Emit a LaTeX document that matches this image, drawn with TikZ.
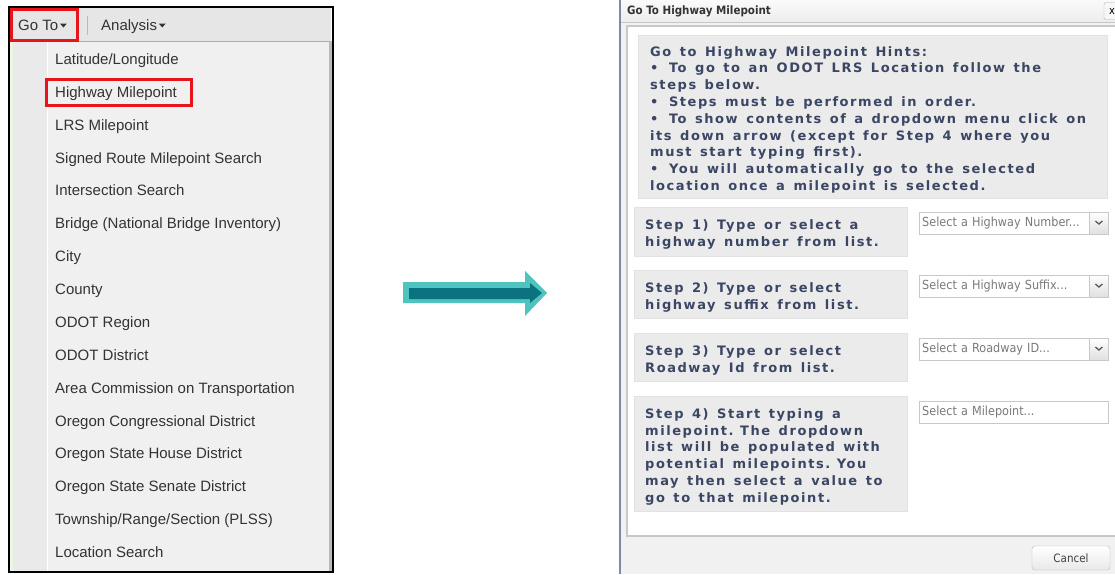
\documentclass[tikz,border=0pt]{standalone}
\usepackage{fontspec}
\usepackage{tikz}
\usetikzlibrary{positioning}
\setmainfont{Liberation Sans}
\newfontfamily\menufont{Liberation Sans}
\newfontfamily\hintfont{DejaVu Sans}[LetterSpace=12]
\IfFontExistsTF{DejaVu Sans Condensed}
  {\newfontfamily\uifont{DejaVu Sans Condensed}}
  {\newfontfamily\uifont{DejaVu Sans}[Scale=0.9]}
\newcommand{\firstline}{\rule{0pt}{16pt}}
\newcommand{\widespaces}{\fontdimen2\font=8.5pt\fontdimen3\font=1pt\spaceskip=8.5pt plus 1pt\relax}
\newcommand{\hintbullet}{•\hspace*{10.5pt}}

\definecolor{menubg}{HTML}{F0F0F0}
\definecolor{colbg}{HTML}{EAEAEA}
\definecolor{barbg}{HTML}{E6E6E6}
\definecolor{menutext}{HTML}{333333}
\definecolor{hiliteRed}{HTML}{E8141C}
\definecolor{hintbg}{HTML}{EBEBEB}
\definecolor{hintline}{HTML}{E2E2E2}
\definecolor{hinttext}{HTML}{3A4664}
\definecolor{framebg}{HTML}{F1F1F1}
\definecolor{edgeblue}{HTML}{7A8CA6}
\definecolor{tealLight}{HTML}{4FC3BE}
\definecolor{tealDark}{HTML}{0B7380}
\definecolor{boxline}{HTML}{C8C8C8}
\definecolor{placeholder}{HTML}{7A7A7A}

\begin{document}
\begin{tikzpicture}
  [x=1pt,y=-1pt,
   menuitem/.style={anchor=base west,inner sep=0pt,text=menutext,font=\menufont\fontsize{15}{17}\selectfont},
   redbox/.style={draw=hiliteRed,line width=2.5pt},
   hintbox/.style={anchor=north west,fill=hintbg,draw=hintline,text=hinttext,align=left,
     font=\hintfont\bfseries\fontsize{13}{16.8}\selectfont},
   stepbox/.style={hintbox,inner xsep=11pt,text width=251pt},
   dropbox/.style={anchor=north west,draw=boxline,fill=white,minimum height=22pt,
     inner xsep=3pt,inner ysep=0pt,text width=183pt,align=left,text=placeholder,
     font=\uifont\fontsize{12.5}{14}\selectfont},
   chev/.style={draw=black!65,line width=1.3pt}]

  \useasboundingbox (0,0) rectangle (1115,574);

  % left: Go To menu
  \fill[barbg] (10,8) rectangle (331,41);
  \draw[gray!65] (10,41) -- (331,41);
  \fill[colbg] (13,41) rectangle (47,572);
  \fill[yellow!20!green!10] (10,41) rectangle (13,572);
  \fill[menubg] (47,42) rectangle (329,572);
  \draw[white] (47,42) -- (47,572);
  \fill[gray!55] (329,41) rectangle (332,572);
  \draw[black,line width=2pt] (9,7) rectangle (333,572);

  \node[menuitem] (goto) at (18,30.5) {Go To};
  \fill[menutext] ([xshift=1.5pt,yshift=5.5pt]goto.base east) ++(0,-1.5) -- ++(7,0) -- ++(-3.5,4) -- cycle;
  \draw[gray!55] (87,16) -- (87,35);
  \node[menuitem] (analysis) at (101,30.5) {Analysis};
  \fill[menutext] ([xshift=1.5pt,yshift=5.5pt]analysis.base east) ++(0,-1.5) -- ++(7,0) -- ++(-3.5,4) -- cycle;
  \draw[redbox] (11.5,9.5) rectangle (77.5,40.5);

  \foreach \t [count=\i] in {Latitude/Longitude,Highway Milepoint,LRS Milepoint,
      Signed Route Milepoint Search,Intersection Search,Bridge (National Bridge Inventory),
      City,County,ODOT Region,ODOT District,Area Commission on Transportation,
      Oregon Congressional District,Oregon State House District,Oregon State Senate District,
      Township/Range/Section (PLSS),Location Search}
    \node[menuitem] (item\i) at (55,{64.5+32.87*(\i-1)}) {\t};
  \draw[redbox] (46.5,79.5) rectangle (191.5,105.5);

  % arrow
  \fill[tealLight] (403,282) -- (525,282) -- (525,271) -- (547,293) -- (525,316)
    -- (525,303) -- (403,303) -- cycle;
  \fill[tealDark] (409,288) -- (530,288) -- (530,283) -- (542,293) -- (530,303)
    -- (530,299) -- (409,299) -- cycle;

  % right: dialog
  \fill[framebg] (621,0) rectangle (1115,574);
  \shade[top color=gray!4,bottom color=gray!14] (621,0) rectangle (1115,22);
  \draw[gray!45] (621,22.5) -- (1115,22.5);
  \filldraw[fill=white,draw=boxline,line width=1.5pt] (627,26) rectangle (1120,536);
  \draw[edgeblue,line width=1.5pt] (620,0) -- (620,574);
  \node[anchor=west,inner sep=0pt,text=black!80,font=\uifont\bfseries\fontsize{11.5}{13}\selectfont]
    (title) at (627,11) {Go To Highway Milepoint};
  \node[draw=gray!60,fill=gray!6,rounded corners=2pt,minimum width=16pt,minimum height=17pt,
    inner sep=0pt,font=\uifont\fontsize{11}{12}\selectfont] (close) at (1112,11) {x};

  \node[hintbox,inner xsep=12pt,text width=445pt,minimum height=163pt] (hints) at (638,35)
    {\widespaces\firstline Go to Highway Milepoint Hints:\\
     \mbox{\hintbullet To go to an ODOT LRS Location follow the}\\
     steps below.\\
     \hintbullet Steps must be performed in order.\\
     \mbox{\hintbullet To show contents of a dropdown menu click on}\\
     \mbox{its down arrow (except for Step 4 where you}\\
     must start typing first).\\
     \mbox{\hintbullet You will automatically go to the selected}\\
     location once a milepoint is selected.};

  \node[stepbox,minimum height=49pt] (step1) at (634,207)
    {\widespaces\firstline Step 1) Type or select a\\ highway number from list.};
  \node[stepbox,minimum height=48pt] (step2) at (634,270)
    {\widespaces\firstline Step 2) Type or select\\ highway suffix from list.};
  \node[stepbox,minimum height=48pt] (step3) at (634,333)
    {\widespaces\firstline Step 3) Type or select\\ Roadway Id from list.};
  \node[stepbox,minimum height=115pt] (step4) at (634,396)
    {\widespaces\firstline Step 4) Start typing a\\ milepoint. The dropdown\\ \mbox{list will be populated with}\\
     potential milepoints. You\\ \mbox{may then select a value to}\\ go to that milepoint.};

  \node[dropbox] (drop1) at (919,212) {Select a Highway Number...};
  \node[dropbox] (drop2) at (919,275) {Select a Highway Suffix...};
  \node[dropbox] (drop3) at (919,338) {Select a Roadway ID...};
  \node[dropbox] (milepost) at (919,401) {Select a Milepoint...};
  \foreach \d in {drop1,drop2,drop3}{
    \shade[top color=white,bottom color=gray!25,draw=boxline]
      ([xshift=-19pt]\d.north east) rectangle (\d.south east);
    \draw[chev] ([xshift=-13pt,yshift=-9pt]\d.north east) -- ++(3.5,3) -- ++(3.5,-3);
  }

  \node[draw=gray!55,rounded corners=3pt,top color=white,bottom color=gray!18,
    minimum width=78pt,minimum height=24pt,inner sep=0pt,text=black!75,
    font=\uifont\fontsize{11.5}{13}\selectfont] (cancel) at (1071,558) {Cancel};
\end{tikzpicture}
\end{document}
